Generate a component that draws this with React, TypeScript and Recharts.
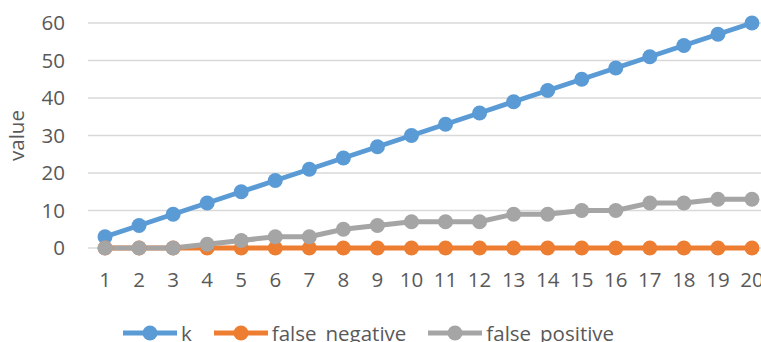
import React from 'react'
import { LineChart, Line, XAxis, YAxis, CartesianGrid } from 'recharts'

const categories = [1, 2, 3, 4, 5, 6, 7, 8, 9, 10, 11, 12, 13, 14, 15, 16, 17, 18, 19, 20]
const kValues = [3, 6, 9, 12, 15, 18, 21, 24, 27, 30, 33, 36, 39, 42, 45, 48, 51, 54, 57, 60]
const falseNegative = [0, 0, 0, 0, 0, 0, 0, 0, 0, 0, 0, 0, 0, 0, 0, 0, 0, 0, 0, 0]
const falsePositive = [0, 0, 0, 1, 2, 3, 3, 5, 6, 7, 7, 7, 9, 9, 10, 10, 12, 12, 13, 13]
const yTicks = [0, 10, 20, 30, 40, 50, 60]

const series = [
  { key: 'k', name: 'k', color: '#5B9BD5' },
  { key: 'fn', name: 'false_negative', color: '#ED7D31' },
  { key: 'fp', name: 'false_positive', color: '#A5A5A5' },
]

const data = categories.map((x, i) => ({
  x,
  k: kValues[i],
  fn: falseNegative[i],
  fp: falsePositive[i],
}))

// category boundaries, for the tick marks between labels
const edges = [...categories.map((c) => c - 0.5), categories[categories.length - 1] + 0.5]
const domain: [number, number] = [edges[0], edges[edges.length - 1]]

const textColor = '#595959'
const gridColor = '#d9d9d9'
const font = '"Open Sans", sans-serif'
const fontSize = 20.5

function LegendRow() {
  return (
    <div
      style={{
        position: 'absolute',
        left: 123,
        top: 320,
        display: 'flex',
        alignItems: 'center',
        gap: 22,
        fontFamily: font,
        fontSize,
        color: textColor,
        whiteSpace: 'pre',
      }}
    >
      {series.map((s) => (
        <div key={s.key} style={{ display: 'flex', alignItems: 'center', gap: 4 }}>
          <svg width={54} height={18}>
            <line x1={0} y1={9} x2={54} y2={9} stroke={s.color} strokeWidth={5} strokeLinecap="round" />
            <circle cx={27} cy={9} r={7.5} fill={s.color} />
          </svg>
          <span style={{ lineHeight: '26px', position: 'relative', top: 0 }}>{s.name}</span>
        </div>
      ))}
    </div>
  )
}

export default function App() {
  return (
    <div
      style={{
        position: 'fixed',
        left: 0,
        top: 0,
        width: 761,
        height: 342,
        overflow: 'hidden',
        background: '#fff',
        fontFamily: font,
      }}
    >
      <LineChart width={800} height={342} data={data} margin={{ top: 23, right: 31, left: 0, bottom: 0 }}>
        <CartesianGrid vertical={false} stroke={gridColor} strokeWidth={1.5} />
        <XAxis
          xAxisId="edges"
          dataKey="x"
          type="number"
          domain={domain}
          ticks={edges}
          tick={false}
          tickSize={8}
          tickLine={{ stroke: gridColor, strokeWidth: 1.5 }}
          axisLine={{ stroke: gridColor, strokeWidth: 1.5 }}
          height={0}
        />
        <XAxis
          dataKey="x"
          type="number"
          domain={domain}
          ticks={categories}
          interval={0}
          tickLine={false}
          axisLine={false}
          tickSize={6}
          tickMargin={18}
          height={94}
          tick={{ fill: textColor, fontSize, fontFamily: font }}
        />
        <YAxis
          type="number"
          domain={[0, 60]}
          ticks={yTicks}
          width={88}
          axisLine={false}
          tickLine={false}
          tickSize={6}
          tickMargin={17}
          tick={{ fill: textColor, fontSize, fontFamily: font }}
          label={{
            value: 'value',
            angle: -90,
            position: 'insideLeft',
            offset: 17,
            style: { textAnchor: 'middle', fill: textColor, fontSize, fontFamily: font },
          }}
        />
        {series.map((s) => (
          <Line
            key={s.key}
            dataKey={s.key}
            name={s.name}
            stroke={s.color}
            strokeWidth={5}
            dot={{ r: 7.5, fill: s.color, stroke: s.color, strokeWidth: 0 }}
            activeDot={false}
            isAnimationActive={false}
          />
        ))}
      </LineChart>
      <LegendRow />
    </div>
  )
}
